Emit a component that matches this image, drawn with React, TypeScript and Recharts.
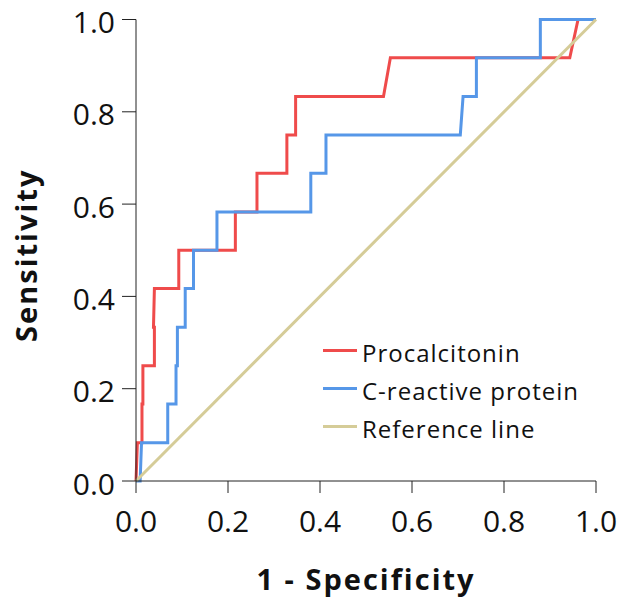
import { LineChart, Line, XAxis, YAxis, Legend } from 'recharts';

document.body.style.margin = '0';

const FONT = '"Open Sans", "Noto Sans", sans-serif';

// axis ticks
const TICKS = [0, 0.2, 0.4, 0.6, 0.8, 1.0];

// Procalcitonin ROC (1 - specificity, sensitivity)
const PCT_X = [0, 0.003, 0.013, 0.013, 0.015, 0.015, 0.04, 0.04, 0.038, 0.04, 0.093, 0.093, 0.216, 0.216, 0.263, 0.263, 0.328, 0.328, 0.347, 0.347, 0.538, 0.553, 0.943, 0.961, 1.0];
const PCT_Y = [0, 0.083, 0.083, 0.167, 0.167, 0.25, 0.25, 0.333, 0.333, 0.417, 0.417, 0.5, 0.5, 0.583, 0.583, 0.667, 0.667, 0.75, 0.75, 0.833, 0.833, 0.917, 0.917, 1.0, 1.0];

// C-reactive protein ROC
const CRP_X = [0, 0.009, 0.012, 0.069, 0.069, 0.087, 0.087, 0.09, 0.09, 0.107, 0.107, 0.125, 0.125, 0.176, 0.176, 0.38, 0.38, 0.413, 0.413, 0.705, 0.711, 0.74, 0.74, 0.879, 0.879, 1.0];
const CRP_Y = [0, 0, 0.083, 0.083, 0.167, 0.167, 0.25, 0.25, 0.333, 0.333, 0.417, 0.417, 0.5, 0.5, 0.583, 0.583, 0.667, 0.667, 0.75, 0.75, 0.833, 0.833, 0.917, 0.917, 1.0, 1.0];

// diagonal reference
const REF_X = [0, 1];
const REF_Y = [0, 1];

const SERIES = [
  { name: 'Procalcitonin', xs: PCT_X, ys: PCT_Y, color: '#ef4b4b' },
  { name: 'C-reactive protein', xs: CRP_X, ys: CRP_Y, color: '#5697e8' },
  { name: 'Reference line', xs: REF_X, ys: REF_Y, color: '#d5cc98' },
];

const toPoints = (xs: number[], ys: number[]) => xs.map((x, i) => ({ x, y: ys[i] }));

const titleProps = {
  fontFamily: FONT,
  fontSize: 29,
  fontWeight: 700,
  letterSpacing: 2,
  fill: '#111',
};

function XTitle({ viewBox }: any) {
  return (
    <text x={viewBox.x + viewBox.width / 2} y={viewBox.y + 109} textAnchor="middle" {...titleProps}>
      1 - Specificity
    </text>
  );
}

function YTitle({ viewBox }: any) {
  const x = 37;
  const y = viewBox.y + viewBox.height / 2 + 5;
  return (
    <text x={x} y={y} transform={`rotate(-90, ${x}, ${y})`} textAnchor="middle" {...titleProps}>
      Sensitivity
    </text>
  );
}

// keep the series order (recharts sorts legend items by name)
function LegendBox() {
  return (
    <div style={{ fontFamily: FONT, fontSize: 24, letterSpacing: 1, color: '#111' }}>
      {SERIES.map((s) => (
        <div key={s.name} style={{ display: 'flex', alignItems: 'center', height: 37.7, whiteSpace: 'nowrap' }}>
          <span style={{ display: 'inline-block', width: 34, height: 3, background: s.color, marginRight: 5, position: 'relative', top: -2 }} />
          <span>{s.name}</span>
        </div>
      ))}
    </div>
  );
}

export default function App() {
  const tickStyle = { fontSize: 30, fill: '#111', fontFamily: FONT };
  return (
    <LineChart width={623} height={606} margin={{ top: 19.5, right: 27, bottom: 0, left: 0 }}>
      <XAxis
        dataKey="x"
        type="number"
        domain={[0, 1]}
        ticks={TICKS}
        tickFormatter={(v: number) => v.toFixed(1)}
        tick={tickStyle}
        tickSize={12}
        tickMargin={18}
        height={125}
        stroke="#222"
        allowDuplicatedCategory={false}
        label={<XTitle />}
      />
      <YAxis
        type="number"
        domain={[0, 1]}
        ticks={TICKS}
        tickFormatter={(v: number) => v.toFixed(1)}
        tick={{ ...tickStyle, dy: 3 }}
        tickSize={14}
        tickMargin={7}
        width={136}
        stroke="#222"
        label={<YTitle />}
      />
      <XAxis xAxisId="top" orientation="top" type="number" domain={[0, 1]} height={0} tick={false} tickLine={false} stroke="#8a8a8a" />
      <YAxis yAxisId="right" orientation="right" type="number" domain={[0, 1]} width={0} tick={false} tickLine={false} stroke="#111" />
      {SERIES.map((s) => (
        <Line
          key={s.name}
          name={s.name}
          data={toPoints(s.xs, s.ys)}
          dataKey="y"
          type="linear"
          stroke={s.color}
          strokeWidth={3}
          dot={false}
          activeDot={false}
          isAnimationActive={false}
        />
      ))}
      <Legend
        layout="vertical"
        align="center"
        verticalAlign="middle"
        wrapperStyle={{ left: 323, top: 334, width: 260 }}
        content={<LegendBox />}
      />
    </LineChart>
  );
}
